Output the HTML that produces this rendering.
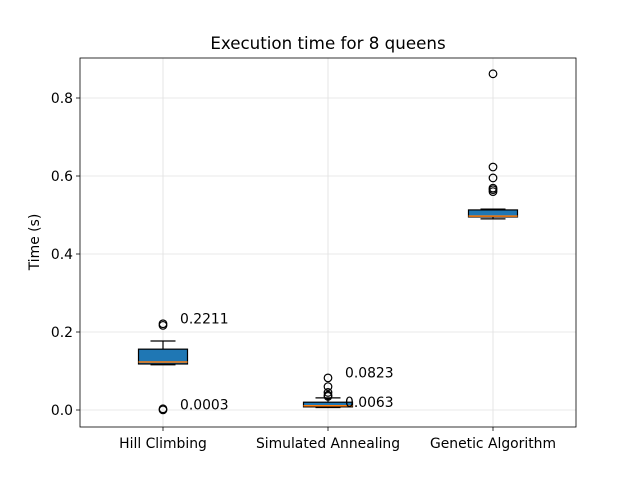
<!DOCTYPE html>
<html><head><meta charset="utf-8"><style>body{margin:0;background:#fff}svg{display:block;font-family:"DejaVu Sans","Liberation Sans",sans-serif}</style></head>
<body>
<svg id="c" width="640" height="480">
<rect width="640" height="480" fill="#fff"/>
<text x="328" y="49" font-size="16.7" text-anchor="middle">Execution time for 8 queens</text>
<g id="grid"></g><g id="marks"></g><g id="axes"></g>
</svg>
<script>
const categories=["Hill Climbing","Simulated Annealing","Genetic Algorithm"];
const whiskerLow=[0.116,0.0063,0.49];
const q1=[0.118,0.008,0.495];
const medians=[0.123,0.011,0.497];
const q3=[0.156,0.020,0.513];
const whiskerHigh=[0.177,0.031,0.515];
const outliers=[[0.2211,0.217,0.0003,0.003],[0.0823,0.06,0.045,0.038,0.035],[0.862,0.623,0.595,0.569,0.565,0.56]];
const annotations=[["0.2211","0.0003"],["0.0823","0.0063"],[]];
const annotationValues=[[0.2211,0.0003],[0.0823,0.0063],[]];
const yTicks=[0.0,0.2,0.4,0.6,0.8];
const yTickLabels=["0.0","0.2","0.4","0.6","0.8"];
const NS="http://www.w3.org/2000/svg";
const L=80,R=576,T=58,B=427;
const y=v=>410-390*v;
const x=i=>163+165*i;
function mk(p,tag,a){const e=document.createElementNS(NS,tag);for(const k in a)e.setAttribute(k,a[k]);p.appendChild(e);return e;}
const grid=document.getElementById('grid'),marks=document.getElementById('marks'),axes=document.getElementById('axes');
yTicks.forEach((t,i)=>{
 const g=mk(grid,'line',{x1:L,x2:R,y1:y(t),y2:y(t),stroke:'#e0e0e0','stroke-width':0.8});
 
 
 mk(axes,'line',{x1:L-4,x2:L,y1:y(t),y2:y(t),stroke:'#000','stroke-width':0.8});
 const tx=mk(axes,'text',{x:L-7,y:y(t)+5,'font-size':13.9,'text-anchor':'end'});tx.textContent=yTickLabels[i];
 
 
});
categories.forEach((c,i)=>{
 const cx=x(i);
 const g=mk(grid,'line',{x1:cx,x2:cx,y1:T,y2:B,stroke:'#e0e0e0','stroke-width':0.8});
 
 
 mk(axes,'line',{x1:cx,x2:cx,y1:B,y2:B+4,stroke:'#000','stroke-width':0.8});
 const tx=mk(axes,'text',{x:cx,y:B+21,'font-size':13.9,'text-anchor':'middle'});tx.textContent=c;
 
 
 const grp=mk(marks,'g',{});
 
 
 mk(grp,'line',{x1:cx,x2:cx,y1:y(q3[i]),y2:y(whiskerHigh[i]),stroke:'#000','stroke-width':1.2});
 mk(grp,'line',{x1:cx,x2:cx,y1:y(q1[i]),y2:y(whiskerLow[i]),stroke:'#000','stroke-width':1.2});
 mk(grp,'line',{x1:cx-12.5,x2:cx+12.5,y1:y(whiskerHigh[i]),y2:y(whiskerHigh[i]),stroke:'#000','stroke-width':1.2});
 mk(grp,'line',{x1:cx-12.5,x2:cx+12.5,y1:y(whiskerLow[i]),y2:y(whiskerLow[i]),stroke:'#000','stroke-width':1.2});
 mk(grp,'rect',{x:cx-24.5,y:y(q3[i]),width:49,height:Math.max(1,y(q1[i])-y(q3[i])),fill:'#1f77b4',stroke:'#000','stroke-width':1.2});
 mk(grp,'line',{x1:cx-24.5,x2:cx+24.5,y1:y(medians[i]),y2:y(medians[i]),stroke:'#ff7f0e','stroke-width':1.5});
 outliers[i].forEach(v=>{
  const o=mk(grp,'circle',{cx:cx,cy:y(v),r:3.8,fill:'none',stroke:'#000','stroke-width':1.2});
  
  
 });
 annotations[i].forEach((a,j)=>{
  const t=mk(grp,'text',{x:cx+17,y:y(annotationValues[i][j])-0.5,'font-size':13.9});t.textContent=a;
  
  
 });
});
const fr=mk(axes,'rect',{x:L,y:T,width:R-L,height:B-T,fill:'none',stroke:'#000','stroke-width':0.8});


const yl=mk(axes,'text',{x:0,y:0,'font-size':13.9,'text-anchor':'middle',transform:'translate(39,242) rotate(-90)'});yl.textContent='Time (s)';


</script>
</body></html>
